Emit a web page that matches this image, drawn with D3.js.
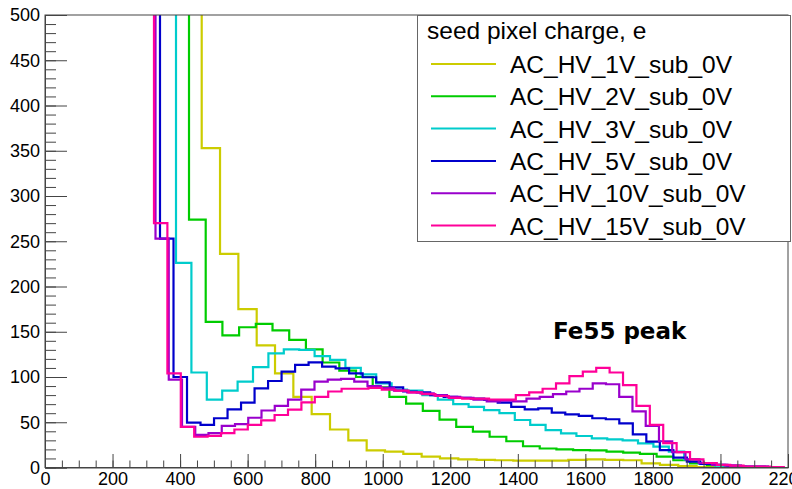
<!DOCTYPE html>
<html><head><meta charset="utf-8">
<script src="https://cdn.jsdelivr.net/npm/d3@7"></script>
<style>body{margin:0;background:#fff} svg{display:block}</style>
</head><body><svg id="c" width="792" height="489"></svg>
<script>
// ---------------- data ----------------
const seriesNames = ["AC_HV_1V_sub_0V","AC_HV_2V_sub_0V","AC_HV_3V_sub_0V","AC_HV_5V_sub_0V","AC_HV_10V_sub_0V","AC_HV_15V_sub_0V"];
const seriesColors = ["#cccc00","#00cc00","#00cccc","#0000cc","#9900cc","#ff0099"];
// lower edge (electrons) of the second listed bin (first one is the off-scale bin) and bin width (electrons)
const firstEdge = [464.0, 426.4, 387.9, 340.5, 327.2, 322.7];
const binWidth  = [54.27, 49.45, 45.6, 40.0, 39.23, 39.68];
// bin contents (first value is an off-scale bin, clipped at the top of the frame)
const hv1  = [1000,353,236,175,135,104,78,59,42,30,19,17.5,15,12,10,9,8.5,8,7.5,7.5,7.5,8.5,9,8.5,8,4.6,2.8,1.5,0.5];
const hv2  = [1000,274,161,146,155,158.6,151.5,141,130.5,116,107,100,88.5,78,70.5,62.5,53,45,39.6,34,29,23.5,21,20,19.3,19,17.5,16.4,15,12,8,4.6,2.5,1,0.5];
const hv3  = [1000,226,105,75,85,95,111,126,130.6,130,123,119,110,103,93,86,85,80,75,70,67,63.5,60,52.5,47,41.4,37.8,34.8,32.2,31,30,26.7,23,17.5,9,4,2,1,0.5];
const hv5  = [1000,253,100,49.5,47,54.4,64.3,71.6,87.5,95.6,106,113.3,116.2,111.4,109.6,104,99.7,94,88.6,84,83,80,78,77,76,74.6,71.6,67,64.3,65.4,60.6,58.8,57,54.4,53.3,48.8,36.5,28.5,19.3,11,6.4,4,2.8,2,1,1,0.5];
const hv10 = [1000,253,97,45,36,38,46,48,55,63,68,75,86,95,97,98,95,90,88,85,83,82,80,78,77,75,73,74,73,76,78,81,84,87,93,92,78,62,46,29,17,9,5,3,2,1,1,0.5];
const hv15 = [1000,270,104,45,34,35,38,42,47,52,58,64,72,78,84,87,87,88,86,85,83,81,79,77,76,76,75,75,80,83,87,93,101,106,110,105,91,68,47,27,17,9,5,3,2,1,1,0.5];
const seriesValues = [hv1,hv2,hv3,hv5,hv10,hv15];

const xTicks = [0,200,400,600,800,1000,1200,1400,1600,1800,2000,2200];
const yTicks = [0,50,100,150,200,250,300,350,400,450,500];
const legendTitle = "seed pixel charge, e";
const annotation = "Fe55 peak";

// ---------------- layout ----------------
const W = 792, H = 489;
const m = {l:45, r:4, t:15, b:21.5};
const x = d3.scaleLinear().domain([0,2200]).range([m.l, W - m.r]);
const y = d3.scaleLinear().domain([0,500]).range([H - m.b, m.t]);
const svg = d3.select("#c");
const axisColor = "#444";
const font = "'Liberation Sans', Arial, Helvetica, sans-serif";

svg.append("defs").append("clipPath").attr("id","plotclip")
  .append("rect").attr("x", x(0)).attr("y", y(500)).attr("width", x(2200)-x(0)).attr("height", y(0)-y(500));

// histograms
const line = d3.line().x(d => x(d[0])).y(d => y(d[1])).curve(d3.curveStepAfter);
const gH = svg.append("g").attr("clip-path","url(#plotclip)");
seriesValues.forEach((vals, s) => {
  const pts = vals.map((v, i) => [firstEdge[s] + (i - 1) * binWidth[s], v]);
  pts.push([firstEdge[s] + (vals.length - 1) * binWidth[s], 0]);
  gH.append("path").attr("d", line(pts)).attr("fill","none")
    .attr("stroke", seriesColors[s]).attr("stroke-width", 2.2).attr("stroke-linejoin","miter");
});

// frame
svg.append("rect").attr("x", x(0)).attr("y", y(500)).attr("width", x(2200)-x(0)).attr("height", y(0)-y(500))
  .attr("fill","none").attr("stroke", axisColor).attr("stroke-width",1);

// axes
function styleAxis(g){
  g.select(".domain").attr("stroke", axisColor);
  g.selectAll(".tick line").attr("stroke", axisColor);
  g.selectAll("text").attr("fill","#000").style("font-family", font).style("font-size","18px");
}
const yMinor = svg.append("g").attr("transform",`translate(${x(0)},0)`)
  .call(d3.axisLeft(y).tickValues(d3.range(0,501,10)).tickSize(-11).tickFormat(""));
yMinor.select(".domain").remove(); yMinor.selectAll("line").attr("stroke", axisColor);
const yAx = svg.append("g").attr("transform",`translate(${x(0)},0)`)
  .call(d3.axisLeft(y).tickValues(yTicks).tickSize(-22).tickPadding(5).tickFormat(d3.format("d")));
styleAxis(yAx);

const xMinor = svg.append("g").attr("transform",`translate(0,${y(0)})`)
  .call(d3.axisBottom(x).tickValues(d3.range(0,2201,50)).tickSize(-7).tickFormat(""));
xMinor.select(".domain").remove(); xMinor.selectAll("line").attr("stroke", axisColor);
const xAx = svg.append("g").attr("transform",`translate(0,${y(0)})`)
  .call(d3.axisBottom(x).tickValues(xTicks).tickSize(-13.5).tickPadding(4.5).tickFormat(d3.format("d")));
styleAxis(xAx);

// annotation
svg.append("text").attr("x", 553).attr("y", 338.5).text(annotation)
  .style("font-family","'DejaVu Sans', sans-serif").style("font-weight","bold").style("font-size","23px").attr("fill","#000");

// legend
const lg = svg.append("g");
lg.append("rect").attr("x", 417.5).attr("y", 15.5).attr("width", 373).attr("height", 226)
  .attr("fill","#fff").attr("stroke","#666").attr("stroke-width",1);
lg.append("text").attr("x", 427).attr("y", 39).text(legendTitle)
  .style("font-family", font).style("font-size","24.5px").attr("fill","#000");
seriesNames.forEach((n, i) => {
  const cy = 64 + i * 32.3;
  lg.append("line").attr("x1", 431).attr("x2", 496).attr("y1", cy).attr("y2", cy)
    .attr("stroke", seriesColors[i]).attr("stroke-width", 2);
  lg.append("text").attr("x", 510).attr("y", cy + 9).text(n)
    .style("font-family", font).style("font-size","24.5px").attr("fill","#000");
});
</script></body></html>
